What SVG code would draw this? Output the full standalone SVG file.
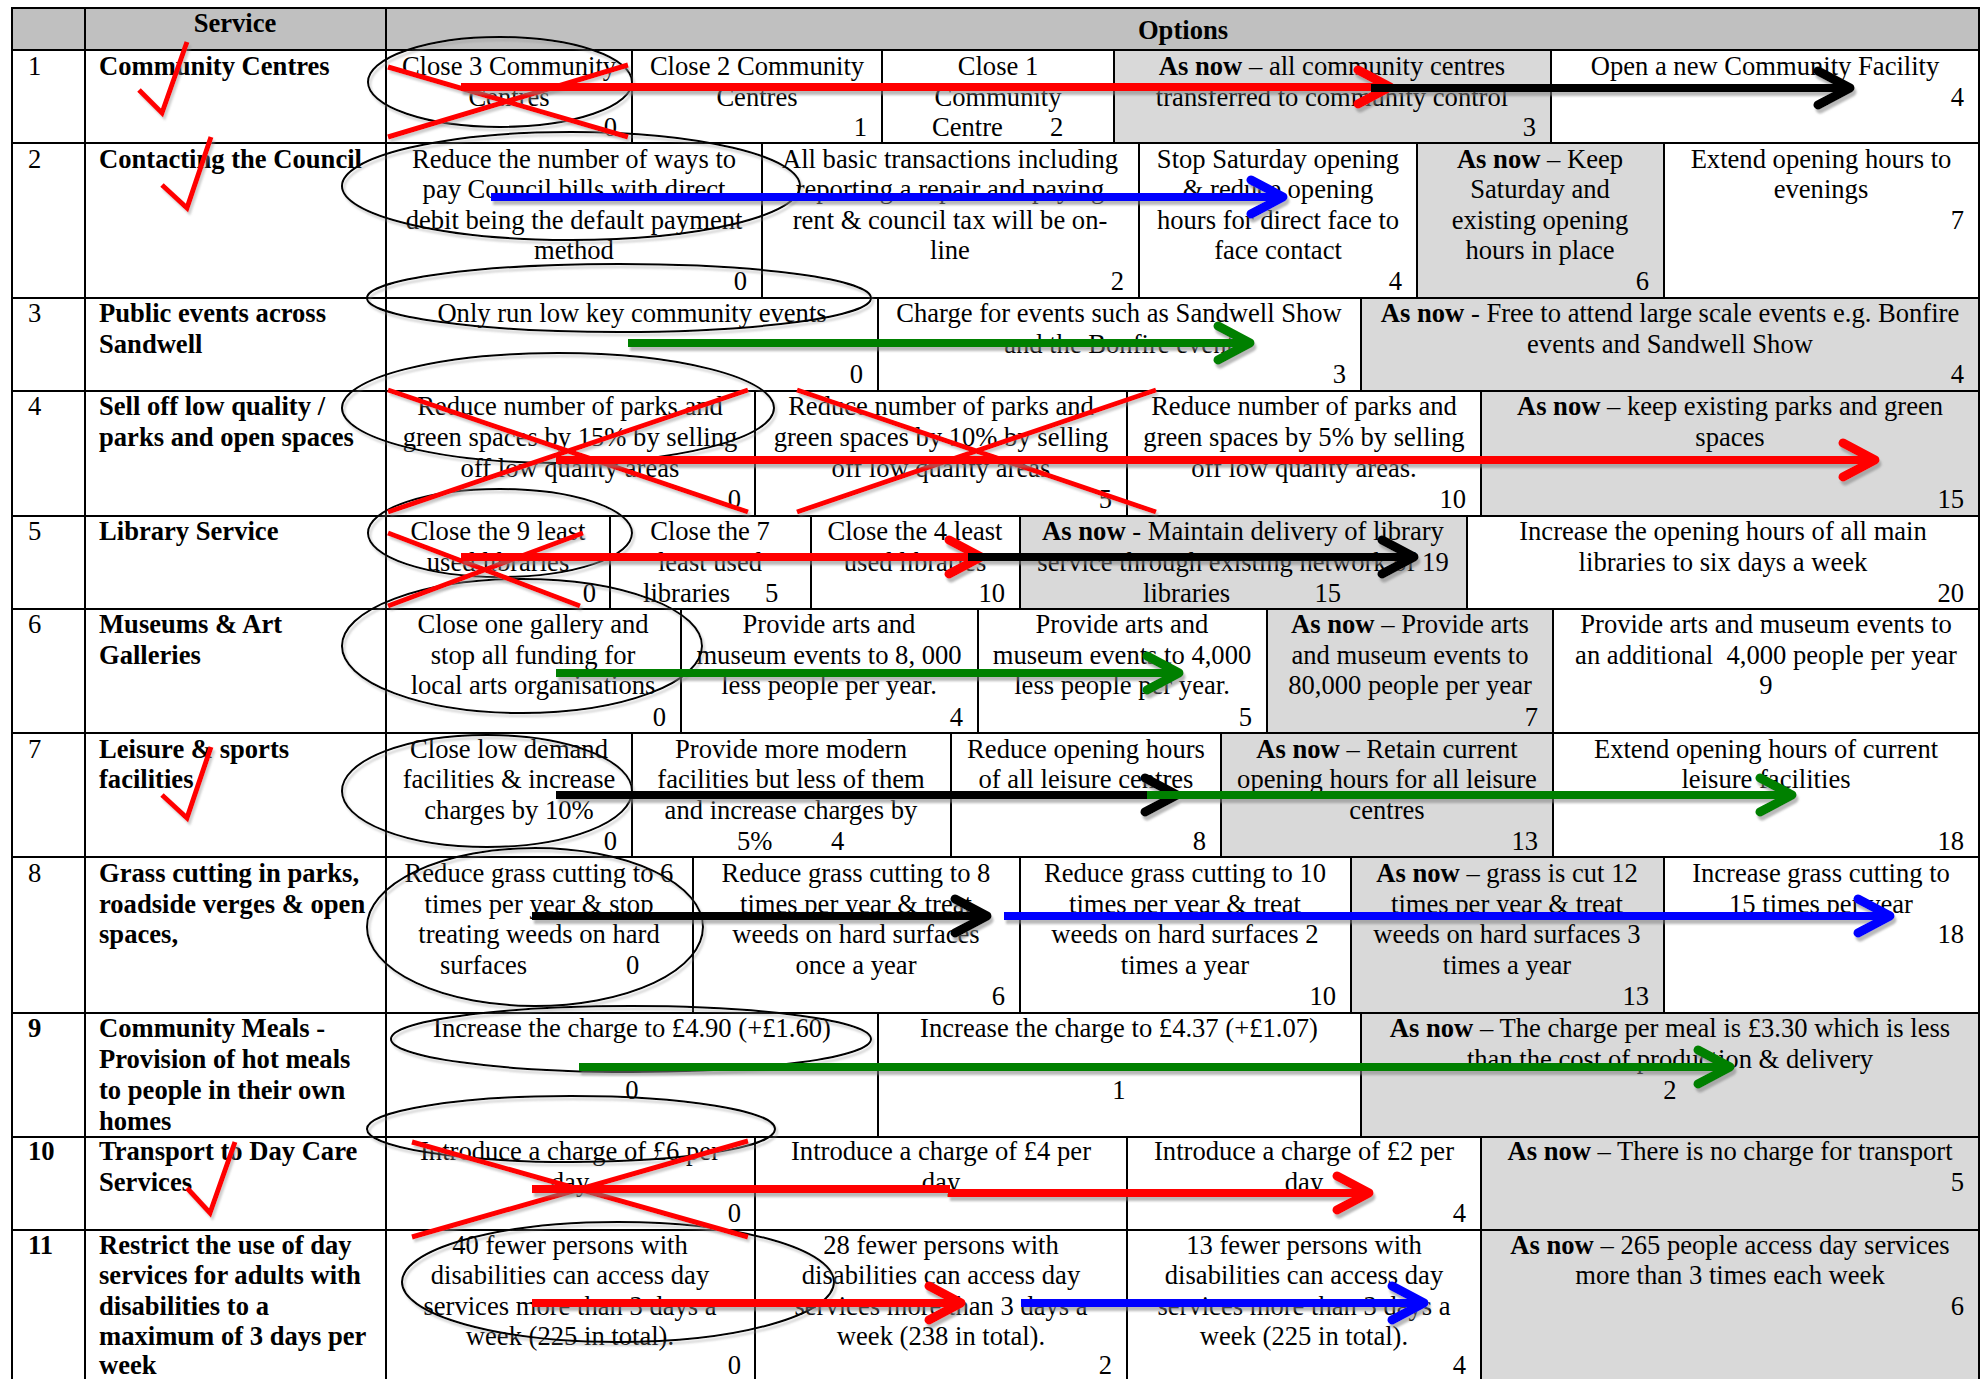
<svg xmlns="http://www.w3.org/2000/svg" width="1987" height="1379" viewBox="0 0 1987 1379">
<defs>
<style>
.cell{stroke:#000;stroke-width:2;fill:#fff}
.g{fill:#d9d9d9}
.hd{fill:#c0c0c0}
text{font-family:"Liberation Serif","Times New Roman",serif;font-size:26.6px;fill:#000}
.c{text-anchor:middle}
.r{text-anchor:end}
.b{font-weight:bold}
.ell{fill:none;stroke:#000;stroke-width:2}
.x{stroke:#f00;stroke-width:5;fill:none}
.chk{fill:none;stroke:#f00;stroke-width:5;stroke-linejoin:miter}
.arw{stroke-width:8;fill:none}
.red{stroke:#f00}.blk{stroke:#000}.blu{stroke:#00f}.grn{stroke:#008000}
</style>
<filter id="sh" filterUnits="userSpaceOnUse" x="0" y="0" width="1987" height="1379"><feDropShadow dx="2" dy="4" stdDeviation="1" flood-color="#808080" flood-opacity="0.55"/></filter>
<filter id="sh2" filterUnits="userSpaceOnUse" x="0" y="0" width="1987" height="1379"><feDropShadow dx="2" dy="3" stdDeviation="1" flood-color="#909090" flood-opacity="0.45"/></filter>
<marker id="m-red" markerUnits="userSpaceOnUse" viewBox="0 0 44 44" markerWidth="44" markerHeight="44" refX="32" refY="22" orient="auto" overflow="visible"><path d="M6,5 L38,22 L6,39" fill="none" stroke="#f00" stroke-width="9" stroke-linecap="round" stroke-linejoin="round"/></marker>
<marker id="m-blk" markerUnits="userSpaceOnUse" viewBox="0 0 44 44" markerWidth="44" markerHeight="44" refX="32" refY="22" orient="auto" overflow="visible"><path d="M6,5 L38,22 L6,39" fill="none" stroke="#000" stroke-width="9" stroke-linecap="round" stroke-linejoin="round"/></marker>
<marker id="m-blu" markerUnits="userSpaceOnUse" viewBox="0 0 44 44" markerWidth="44" markerHeight="44" refX="32" refY="22" orient="auto" overflow="visible"><path d="M6,5 L38,22 L6,39" fill="none" stroke="#00f" stroke-width="9" stroke-linecap="round" stroke-linejoin="round"/></marker>
<marker id="m-grn" markerUnits="userSpaceOnUse" viewBox="0 0 44 44" markerWidth="44" markerHeight="44" refX="32" refY="22" orient="auto" overflow="visible"><path d="M6,5 L38,22 L6,39" fill="none" stroke="#008000" stroke-width="9" stroke-linecap="round" stroke-linejoin="round"/></marker>
</defs>
<rect x="0" y="0" width="1987" height="1379" fill="#fff"/>

<g id="header">
<rect class="cell hd" x="12" y="8" width="1967" height="42"/>
<line x1="85" y1="8" x2="85" y2="50" stroke="#000" stroke-width="2"/>
<line x1="386" y1="8" x2="386" y2="50" stroke="#000" stroke-width="2"/>
<text class="c b" x="235" y="32">Service</text>
<text class="c b" x="1183" y="39">Options</text>
</g>

<g id="row1">
<rect class="cell" x="12" y="50" width="73" height="93"/>
<rect class="cell" x="85" y="50" width="301" height="93"/>
<text x="28" y="75">1</text>
<text class="b" x="99" y="75">Community Centres</text>
<g id="r1-o1"><rect class="cell" x="386" y="50" width="246" height="93"/>
<text class="c" x="509" y="75">Close 3 Community</text><text class="c" x="509" y="106">Centres</text><text class="r" x="617" y="136">0</text></g>
<g id="r1-o2"><rect class="cell" x="632" y="50" width="250" height="93"/>
<text class="c" x="757" y="75">Close 2 Community</text><text class="c" x="757" y="106">Centres</text><text class="r" x="867" y="136">1</text></g>
<g id="r1-o3"><rect class="cell" x="882" y="50" width="232" height="93"/>
<text class="c" x="998" y="75">Close 1</text><text class="c" x="998" y="106">Community</text><text x="932" y="136">Centre</text><text x="1050" y="136">2</text></g>
<g id="r1-o4"><rect class="cell g" x="1114" y="50" width="437" height="93"/>
<text class="c" x="1332" y="75"><tspan class="b">As now</tspan> – all community centres</text><text class="c" x="1332" y="106">transferred to community control</text><text class="r" x="1536" y="136">3</text></g>
<g id="r1-o5"><rect class="cell" x="1551" y="50" width="428" height="93"/>
<text class="c" x="1765" y="75">Open a new Community Facility</text><text class="r" x="1964" y="106">4</text></g>
</g>

<g id="row2">
<rect class="cell" x="12" y="143" width="73" height="155"/>
<rect class="cell" x="85" y="143" width="301" height="155"/>
<text x="28" y="168">2</text>
<text class="b" x="99" y="168">Contacting the Council</text>
<g id="r2-o1"><rect class="cell" x="386" y="143" width="376" height="155"/>
<text class="c" x="574" y="168">Reduce the number of ways to</text><text class="c" x="574" y="198">pay Council bills with direct</text><text class="c" x="574" y="229">debit being the default payment</text><text class="c" x="574" y="259">method</text><text class="r" x="747" y="290">0</text></g>
<g id="r2-o2"><rect class="cell" x="762" y="143" width="377" height="155"/>
<text class="c" x="950" y="168">All basic transactions including</text><text class="c" x="950" y="198">reporting a repair and paying</text><text class="c" x="950" y="229">rent &amp; council tax will be on-</text><text class="c" x="950" y="259">line</text><text class="r" x="1124" y="290">2</text></g>
<g id="r2-o3"><rect class="cell" x="1139" y="143" width="278" height="155"/>
<text class="c" x="1278" y="168">Stop Saturday opening</text><text class="c" x="1278" y="198">&amp; reduce opening</text><text class="c" x="1278" y="229">hours for direct face to</text><text class="c" x="1278" y="259">face contact</text><text class="r" x="1402" y="290">4</text></g>
<g id="r2-o4"><rect class="cell g" x="1417" y="143" width="247" height="155"/>
<text class="c" x="1540" y="168"><tspan class="b">As now</tspan> – Keep</text><text class="c" x="1540" y="198">Saturday and</text><text class="c" x="1540" y="229">existing opening</text><text class="c" x="1540" y="259">hours in place</text><text class="r" x="1649" y="290">6</text></g>
<g id="r2-o5"><rect class="cell" x="1664" y="143" width="315" height="155"/>
<text class="c" x="1821" y="168">Extend opening hours to</text><text class="c" x="1821" y="198">evenings</text><text class="r" x="1964" y="229">7</text></g>
</g>

<g id="row3">
<rect class="cell" x="12" y="298" width="73" height="93"/>
<rect class="cell" x="85" y="298" width="301" height="93"/>
<text x="28" y="322">3</text>
<text class="b" x="99" y="322">Public events across</text><text class="b" x="99" y="353">Sandwell</text>
<g id="r3-o1"><rect class="cell" x="386" y="298" width="492" height="93"/>
<text class="c" x="632" y="322">Only run low key community events</text><text class="r" x="863" y="383">0</text></g>
<g id="r3-o2"><rect class="cell" x="878" y="298" width="483" height="93"/>
<text class="c" x="1119" y="322">Charge for events such as Sandwell Show</text><text class="c" x="1119" y="353">and the Bonfire event</text><text class="r" x="1346" y="383">3</text></g>
<g id="r3-o3"><rect class="cell g" x="1361" y="298" width="618" height="93"/>
<text class="c" x="1670" y="322"><tspan class="b">As now</tspan> - Free to attend large scale events e.g. Bonfire</text><text class="c" x="1670" y="353">events and Sandwell Show</text><text class="r" x="1964" y="383">4</text></g>
</g>

<g id="row4">
<rect class="cell" x="12" y="391" width="73" height="125"/>
<rect class="cell" x="85" y="391" width="301" height="125"/>
<text x="28" y="415">4</text>
<text class="b" x="99" y="415">Sell off low quality /</text><text class="b" x="99" y="446">parks and open spaces</text>
<g id="r4-o1"><rect class="cell" x="386" y="391" width="369" height="125"/>
<text class="c" x="570" y="415">Reduce number of parks and</text><text class="c" x="570" y="446">green spaces by 15% by selling</text><text class="c" x="570" y="477">off low quality areas</text><text class="r" x="741" y="508">0</text></g>
<g id="r4-o2"><rect class="cell" x="755" y="391" width="372" height="125"/>
<text class="c" x="941" y="415">Reduce number of parks and</text><text class="c" x="941" y="446">green spaces by 10% by selling</text><text class="c" x="941" y="477">off low quality areas</text><text class="r" x="1112" y="508">5</text></g>
<g id="r4-o3"><rect class="cell" x="1127" y="391" width="354" height="125"/>
<text class="c" x="1304" y="415">Reduce number of parks and</text><text class="c" x="1304" y="446">green spaces by 5% by selling</text><text class="c" x="1304" y="477">off low quality areas.</text><text class="r" x="1466" y="508">10</text></g>
<g id="r4-o4"><rect class="cell g" x="1481" y="391" width="498" height="125"/>
<text class="c" x="1730" y="415"><tspan class="b">As now</tspan> – keep existing parks and green</text><text class="c" x="1730" y="446">spaces</text><text class="r" x="1964" y="508">15</text></g>
</g>

<g id="row5">
<rect class="cell" x="12" y="516" width="73" height="93"/>
<rect class="cell" x="85" y="516" width="301" height="93"/>
<text x="28" y="540">5</text>
<text class="b" x="99" y="540">Library Service</text>
<g id="r5-o1"><rect class="cell" x="386" y="516" width="224" height="93"/>
<text class="c" x="498" y="540">Close the 9 least</text><text class="c" x="498" y="571">used libraries</text><text class="r" x="596" y="602">0</text></g>
<g id="r5-o2"><rect class="cell" x="610" y="516" width="201" height="93"/>
<text class="c" x="710" y="540">Close the 7</text><text class="c" x="710" y="571">least used</text><text x="643" y="602">libraries</text><text x="765" y="602">5</text></g>
<g id="r5-o3"><rect class="cell" x="811" y="516" width="209" height="93"/>
<text class="c" x="915" y="540">Close the 4 least</text><text class="c" x="915" y="571">used libraries</text><text class="r" x="1005" y="602">10</text></g>
<g id="r5-o4"><rect class="cell g" x="1020" y="516" width="447" height="93"/>
<text class="c" x="1243" y="540"><tspan class="b">As now</tspan> - Maintain delivery of library</text><text class="c" x="1243" y="571">service through existing network of 19</text><text x="1143" y="602">libraries</text><text class="r" x="1341" y="602">15</text></g>
<g id="r5-o5"><rect class="cell" x="1467" y="516" width="512" height="93"/>
<text class="c" x="1723" y="540">Increase the opening hours of all main</text><text class="c" x="1723" y="571">libraries to six days a week</text><text class="r" x="1964" y="602">20</text></g>
</g>

<g id="row6">
<rect class="cell" x="12" y="609" width="73" height="124"/>
<rect class="cell" x="85" y="609" width="301" height="124"/>
<text x="28" y="633">6</text>
<text class="b" x="99" y="633">Museums &amp; Art</text><text class="b" x="99" y="664">Galleries</text>
<g id="r6-o1"><rect class="cell" x="386" y="609" width="295" height="124"/>
<text class="c" x="533" y="633">Close one gallery and</text><text class="c" x="533" y="664">stop all funding for</text><text class="c" x="533" y="694">local arts organisations</text><text class="r" x="666" y="726">0</text></g>
<g id="r6-o2"><rect class="cell" x="681" y="609" width="297" height="124"/>
<text class="c" x="829" y="633">Provide arts and</text><text class="c" x="829" y="664">museum events to 8, 000</text><text class="c" x="829" y="694">less people per year.</text><text class="r" x="963" y="726">4</text></g>
<g id="r6-o3"><rect class="cell" x="978" y="609" width="289" height="124"/>
<text class="c" x="1122" y="633">Provide arts and</text><text class="c" x="1122" y="664">museum events to 4,000</text><text class="c" x="1122" y="694">less people per year.</text><text class="r" x="1252" y="726">5</text></g>
<g id="r6-o4"><rect class="cell g" x="1267" y="609" width="286" height="124"/>
<text class="c" x="1410" y="633"><tspan class="b">As now</tspan> – Provide arts</text><text class="c" x="1410" y="664">and museum events to</text><text class="c" x="1410" y="694">80,000 people per year</text><text class="r" x="1538" y="726">7</text></g>
<g id="r6-o5"><rect class="cell" x="1553" y="609" width="426" height="124"/>
<text class="c" x="1766" y="633">Provide arts and museum events to</text><text class="c" x="1766" y="664" xml:space="preserve">an additional  4,000 people per year</text><text class="c" x="1766" y="694">9</text></g>
</g>

<g id="row7">
<rect class="cell" x="12" y="733" width="73" height="124"/>
<rect class="cell" x="85" y="733" width="301" height="124"/>
<text x="28" y="758">7</text>
<text class="b" x="99" y="758">Leisure &amp; sports</text><text class="b" x="99" y="788">facilities</text>
<g id="r7-o1"><rect class="cell" x="386" y="733" width="246" height="124"/>
<text class="c" x="509" y="758">Close low demand</text><text class="c" x="509" y="788">facilities &amp; increase</text><text class="c" x="509" y="819">charges by 10%</text><text class="r" x="617" y="850">0</text></g>
<g id="r7-o2"><rect class="cell" x="632" y="733" width="319" height="124"/>
<text class="c" x="791" y="758">Provide more modern</text><text class="c" x="791" y="788">facilities but less of them</text><text class="c" x="791" y="819">and increase charges by</text><text x="737" y="850">5%</text><text x="831" y="850">4</text></g>
<g id="r7-o3"><rect class="cell" x="951" y="733" width="270" height="124"/>
<text class="c" x="1086" y="758">Reduce opening hours</text><text class="c" x="1086" y="788">of all leisure centres</text><text class="r" x="1206" y="850">8</text></g>
<g id="r7-o4"><rect class="cell g" x="1221" y="733" width="332" height="124"/>
<text class="c" x="1387" y="758"><tspan class="b">As now</tspan> – Retain current</text><text class="c" x="1387" y="788">opening hours for all leisure</text><text class="c" x="1387" y="819">centres</text><text class="r" x="1538" y="850">13</text></g>
<g id="r7-o5"><rect class="cell" x="1553" y="733" width="426" height="124"/>
<text class="c" x="1766" y="758">Extend opening hours of current</text><text class="c" x="1766" y="788">leisure facilities</text><text class="r" x="1964" y="850">18</text></g>
</g>

<g id="row8">
<rect class="cell" x="12" y="857" width="73" height="156"/>
<rect class="cell" x="85" y="857" width="301" height="156"/>
<text x="28" y="882">8</text>
<text class="b" x="99" y="882">Grass cutting in parks,</text><text class="b" x="99" y="913">roadside verges &amp; open</text><text class="b" x="99" y="943">spaces,</text>
<g id="r8-o1"><rect class="cell" x="386" y="857" width="307" height="156"/>
<text class="c" x="539" y="882">Reduce grass cutting to 6</text><text class="c" x="539" y="913">times per year &amp; stop</text><text class="c" x="539" y="943">treating weeds on hard</text><text x="440" y="974">surfaces</text><text x="626" y="974">0</text></g>
<g id="r8-o2"><rect class="cell" x="693" y="857" width="327" height="156"/>
<text class="c" x="856" y="882">Reduce grass cutting to 8</text><text class="c" x="856" y="913">times per year &amp; treat</text><text class="c" x="856" y="943">weeds on hard surfaces</text><text class="c" x="856" y="974">once a year</text><text class="r" x="1005" y="1005">6</text></g>
<g id="r8-o3"><rect class="cell" x="1020" y="857" width="331" height="156"/>
<text class="c" x="1185" y="882">Reduce grass cutting to 10</text><text class="c" x="1185" y="913">times per year &amp; treat</text><text class="c" x="1185" y="943">weeds on hard surfaces 2</text><text class="c" x="1185" y="974">times a year</text><text class="r" x="1336" y="1005">10</text></g>
<g id="r8-o4"><rect class="cell g" x="1351" y="857" width="313" height="156"/>
<text class="c" x="1507" y="882"><tspan class="b">As now</tspan> – grass is cut 12</text><text class="c" x="1507" y="913">times per year &amp; treat</text><text class="c" x="1507" y="943">weeds on hard surfaces 3</text><text class="c" x="1507" y="974">times a year</text><text class="r" x="1649" y="1005">13</text></g>
<g id="r8-o5"><rect class="cell" x="1664" y="857" width="315" height="156"/>
<text class="c" x="1821" y="882">Increase grass cutting to</text><text class="c" x="1821" y="913">15 times per year</text><text class="r" x="1964" y="943">18</text></g>
</g>

<g id="row9">
<rect class="cell" x="12" y="1013" width="73" height="124"/>
<rect class="cell" x="85" y="1013" width="301" height="124"/>
<text class="b" x="28" y="1037">9</text>
<text class="b" x="99" y="1037">Community Meals -</text><text class="b" x="99" y="1068">Provision of hot meals</text><text class="b" x="99" y="1099">to people in their own</text><text class="b" x="99" y="1130">homes</text>
<g id="r9-o1"><rect class="cell" x="386" y="1013" width="492" height="124"/>
<text class="c" x="632" y="1037">Increase the charge to £4.90 (+£1.60)</text><text class="c" x="632" y="1099">0</text></g>
<g id="r9-o2"><rect class="cell" x="878" y="1013" width="483" height="124"/>
<text class="c" x="1119" y="1037">Increase the charge to £4.37 (+£1.07)</text><text class="c" x="1119" y="1099">1</text></g>
<g id="r9-o3"><rect class="cell g" x="1361" y="1013" width="618" height="124"/>
<text class="c" x="1670" y="1037"><tspan class="b">As now</tspan> – The charge per meal is £3.30 which is less</text><text class="c" x="1670" y="1068">than the cost of production &amp; delivery</text><text class="c" x="1670" y="1099">2</text></g>
</g>

<g id="row10">
<rect class="cell" x="12" y="1137" width="73" height="93"/>
<rect class="cell" x="85" y="1137" width="301" height="93"/>
<text class="b" x="28" y="1160">10</text>
<text class="b" x="99" y="1160">Transport to Day Care</text><text class="b" x="99" y="1191">Services</text>
<g id="r10-o1"><rect class="cell" x="386" y="1137" width="369" height="93"/>
<text class="c" x="570" y="1160">Introduce a charge of £6 per</text><text class="c" x="570" y="1191">day</text><text class="r" x="741" y="1222">0</text></g>
<g id="r10-o2"><rect class="cell" x="755" y="1137" width="372" height="93"/>
<text class="c" x="941" y="1160">Introduce a charge of £4 per</text><text class="c" x="941" y="1191">day</text></g>
<g id="r10-o3"><rect class="cell" x="1127" y="1137" width="354" height="93"/>
<text class="c" x="1304" y="1160">Introduce a charge of £2 per</text><text class="c" x="1304" y="1191">day</text><text class="r" x="1466" y="1222">4</text></g>
<g id="r10-o4"><rect class="cell g" x="1481" y="1137" width="498" height="93"/>
<text class="c" x="1730" y="1160"><tspan class="b">As now</tspan> – There is no charge for transport</text><text class="r" x="1964" y="1191">5</text></g>
</g>

<g id="row11">
<rect class="cell" x="12" y="1230" width="73" height="170"/>
<rect class="cell" x="85" y="1230" width="301" height="170"/>
<text class="b" x="28" y="1254">11</text>
<text class="b" x="99" y="1254">Restrict the use of day</text><text class="b" x="99" y="1284">services for adults with</text><text class="b" x="99" y="1315">disabilities to a</text><text class="b" x="99" y="1345">maximum of 3 days per</text><text class="b" x="99" y="1374">week</text>
<g id="r11-o1"><rect class="cell" x="386" y="1230" width="369" height="170"/>
<text class="c" x="570" y="1254">40 fewer persons with</text><text class="c" x="570" y="1284">disabilities can access day</text><text class="c" x="570" y="1315">services more than 3 days a</text><text class="c" x="570" y="1345">week (225 in total).</text><text class="r" x="741" y="1374">0</text></g>
<g id="r11-o2"><rect class="cell" x="755" y="1230" width="372" height="170"/>
<text class="c" x="941" y="1254">28 fewer persons with</text><text class="c" x="941" y="1284">disabilities can access day</text><text class="c" x="941" y="1315">services more than 3 days a</text><text class="c" x="941" y="1345">week (238 in total).</text><text class="r" x="1112" y="1374">2</text></g>
<g id="r11-o3"><rect class="cell" x="1127" y="1230" width="354" height="170"/>
<text class="c" x="1304" y="1254">13 fewer persons with</text><text class="c" x="1304" y="1284">disabilities can access day</text><text class="c" x="1304" y="1315">services more than 3 days a</text><text class="c" x="1304" y="1345">week (225 in total).</text><text class="r" x="1466" y="1374">4</text></g>
<g id="r11-o4"><rect class="cell g" x="1481" y="1230" width="498" height="170"/>
<text class="c" x="1730" y="1254"><tspan class="b">As now</tspan> – 265 people access day services</text><text class="c" x="1730" y="1284">more than 3 times each week</text><text class="r" x="1964" y="1315">6</text></g>
</g>

<g id="ellipses" filter="url(#sh2)">
<ellipse class="ell" cx="500" cy="82" rx="132" ry="45"/>
<ellipse class="ell" cx="571" cy="186" rx="229" ry="54"/>
<ellipse class="ell" cx="619" cy="298" rx="252" ry="34"/>
<ellipse class="ell" cx="558" cy="408" rx="216" ry="55"/>
<ellipse class="ell" cx="500" cy="533" rx="132" ry="44"/>
<ellipse class="ell" cx="522" cy="646" rx="180" ry="67"/>
<ellipse class="ell" cx="487" cy="791" rx="145" ry="56"/>
<ellipse class="ell" cx="535" cy="927" rx="168" ry="79"/>
<ellipse class="ell" cx="631" cy="1039" rx="240" ry="33"/>
<ellipse class="ell" cx="571" cy="1129" rx="204" ry="33"/>
<ellipse class="ell" cx="618" cy="1282" rx="216" ry="60"/>
</g>

<g id="crosses" filter="url(#sh2)">
<path class="x" d="M388,67 L628,137 M388,137 L628,65"/>
<path class="x" d="M388,390 L748,512 M388,512 L748,390"/>
<path class="x" d="M797,390 L1156,512 M797,512 L1156,390"/>
<path class="x" d="M388,533 L580,606 M388,606 L583,533"/>
<path class="x" d="M412,1142 L748,1237 M412,1237 L748,1141"/>
</g>

<g id="ticks" filter="url(#sh2)">
<path class="chk" d="M139,90 L162,113 L187,42"/>
<path class="chk" d="M162,185 L187,208 L211,137"/>
<path class="chk" d="M162,795 L187,818 L211,747"/>
<path class="chk" d="M187,1188 L210,1213 L235,1142"/>
</g>

<g id="connectors" filter="url(#sh)">
<line class="arw red" x1="461" y1="87" x2="1384" y2="87" marker-end="url(#m-red)"/>
<line class="arw blk" x1="1371" y1="88" x2="1844" y2="88" marker-end="url(#m-blk)"/>
<line class="arw blu" x1="491" y1="197" x2="1277" y2="197" marker-end="url(#m-blu)"/>
<line class="arw grn" x1="628" y1="343" x2="1244" y2="343" marker-end="url(#m-grn)"/>
<line class="arw red" x1="556" y1="460" x2="1869" y2="460" marker-end="url(#m-red)"/>
<line class="arw red" x1="461" y1="557" x2="975" y2="557" marker-end="url(#m-red)"/>
<line class="arw blk" x1="968" y1="557" x2="1408" y2="557" marker-end="url(#m-blk)"/>
<line class="arw grn" x1="556" y1="673" x2="1173" y2="673" marker-end="url(#m-grn)"/>
<line class="arw blk" x1="556" y1="795" x2="1171" y2="795" marker-end="url(#m-blk)"/>
<line class="arw grn" x1="1147" y1="795" x2="1786" y2="795" marker-end="url(#m-grn)"/>
<line class="arw blk" x1="532" y1="916" x2="981" y2="916" marker-end="url(#m-blk)"/>
<line class="arw blu" x1="1004" y1="916" x2="1884" y2="916" marker-end="url(#m-blu)"/>
<line class="arw grn" x1="579" y1="1067" x2="1724" y2="1067" marker-end="url(#m-grn)"/>
<line class="arw red" x1="532" y1="1189" x2="950" y2="1189"/>
<line class="arw red" x1="948" y1="1193" x2="1363" y2="1193" marker-end="url(#m-red)"/>
<line class="arw red" x1="532" y1="1303" x2="955" y2="1303" marker-end="url(#m-red)"/>
<line class="arw blu" x1="1021" y1="1303" x2="1418" y2="1303" marker-end="url(#m-blu)"/>
</g>
</svg>
